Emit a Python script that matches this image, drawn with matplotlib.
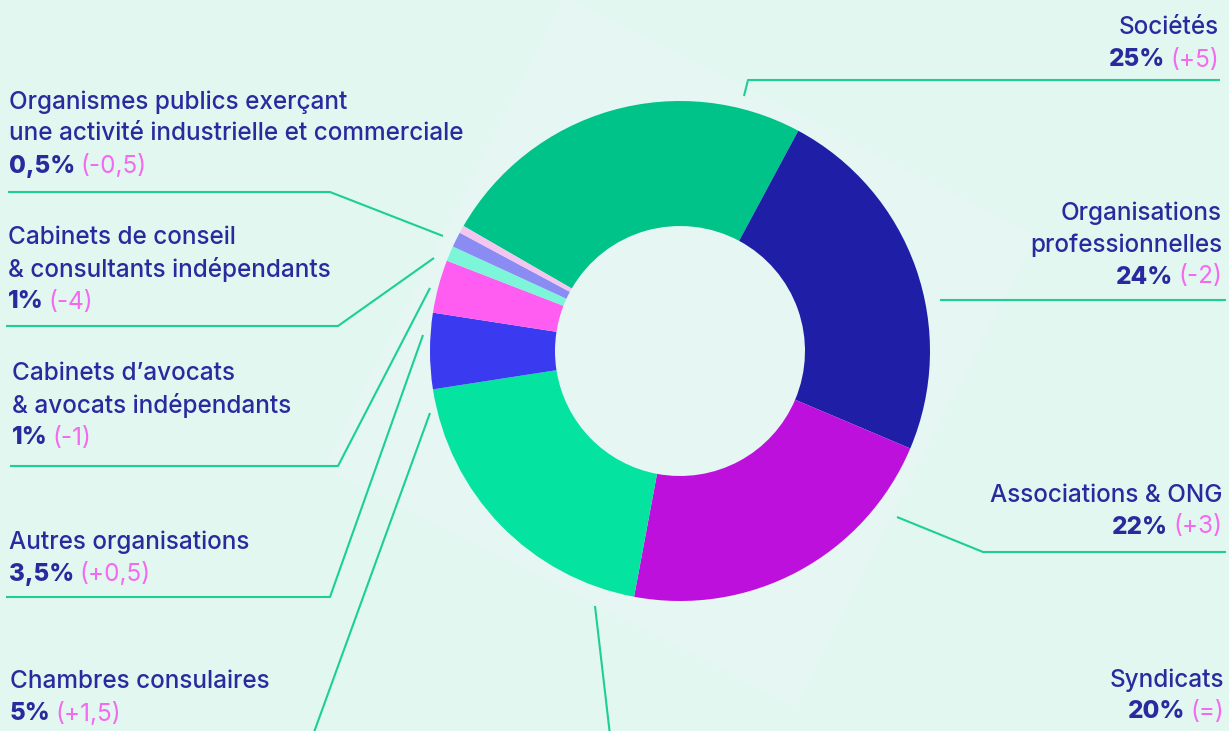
import matplotlib
matplotlib.use("Agg")
import matplotlib.pyplot as plt
from matplotlib.patches import Rectangle
import matplotlib.transforms as mtransforms

W, H = 1229, 731

# lobbying registrants by category (share in %, change vs previous year)
categories = [
    "Sociétés",
    "Organisations professionnelles",
    "Associations & ONG",
    "Syndicats",
    "Chambres consulaires",
    "Autres organisations",
    "Cabinets d'avocats & avocats indépendants",
    "Cabinets de conseil & consultants indépendants",
    "Organismes publics exerçant une activité industrielle et commerciale",
]
shares = [25, 24, 22, 20, 5, 3.5, 1, 1, 0.5]
changes = ["+5", "-2", "+3", "=", "+1,5", "+0,5", "-1", "-4", "-0,5"]
colors = ["#00c389", "#1e1ea6", "#bd10dc", "#04e3a0", "#3a3af0",
          "#ff5cf2", "#7cf5d8", "#8a8cf4", "#f2c6ee"]

# how each label is broken over lines
label_lines = [
    ["Sociétés"],
    ["Organisations", "professionnelles"],
    ["Associations & ONG"],
    ["Syndicats"],
    ["Chambres consulaires"],
    ["Autres organisations"],
    ["Cabinets d\u2019avocats", "& avocats indépendants"],
    ["Cabinets de conseil", "& consultants indépendants"],
    ["Organismes publics exerçant", "une activité industrielle et commerciale"],
]

BG = "#e2f7f0"
NAVY = "#2a2a9e"
PINK = "#f36af0"
LEAD = "#1ccf93"

plt.rcParams["font.family"] = ["Inter", "DejaVu Sans"]

fig = plt.figure(figsize=(W / 100, H / 100), dpi=100)
fig.patch.set_facecolor(BG)
ax = fig.add_axes([0, 0, 1, 1])
ax.set_facecolor(BG)

cx, cy = 680, H - 351   # donut centre (y measured from bottom)
R = 250

# faint tilted square behind the donut
sq = Rectangle((cx - 265, cy - 265), 530, 530, facecolor="#e5f6f3",
               edgecolor="none", zorder=0)
sq.set_transform(mtransforms.Affine2D().rotate_deg_around(cx, cy, -27) + ax.transData)
ax.add_patch(sq)

ax.pie(shares, colors=colors, startangle=150, counterclock=False,
       center=(cx, cy), radius=R,
       wedgeprops=dict(width=R * 0.5, linewidth=0))

ax.set_xlim(0, W)
ax.set_ylim(0, H)
ax.set_aspect("auto")
ax.axis("off")

# label placement: anchor x, y of first line (from top), alignment, leader polyline
layout = [
    (1219, 28, "right", [(1220, 80), (748, 80), (744, 96)]),
    (1222, 213, "right", [(1226, 300), (940, 300)]),
    (1222, 495, "right", [(1226, 552), (983, 552), (897, 517)]),
    (1224, 680, "right", [(610, 735), (595, 606)]),
    (10, 682, "left", [(313, 735), (430, 413)]),
    (9, 542, "left", [(6, 597), (330, 597), (423, 335)]),
    (12, 374, "left", [(10, 466), (338, 466), (430, 288)]),
    (8, 238, "left", [(6, 326), (338, 326), (434, 258)]),
    (9, 102, "left", [(8, 192), (330, 192), (443, 236)]),
]

FS = 17.5
LINE = 32
renderer = fig.canvas.get_renderer()

for lines, share, chg, (x, y0, ha, lead) in zip(label_lines, shares, changes, layout):
    for i, line in enumerate(lines):
        ax.text(x, H - (y0 + i * LINE), line, ha=ha, va="center",
                fontsize=FS, color=NAVY, fontweight="medium")
    yv = H - (y0 + len(lines) * LINE)
    pct = f"{share:g}".replace(".", ",") + "%"
    paren = f"({chg})"
    if ha == "left":
        t1 = ax.text(x, yv, pct, ha="left", va="center", fontsize=FS,
                     color=NAVY, fontweight="heavy")
        bb = t1.get_window_extent(renderer)
        ax.text(bb.x1 + 5, yv, paren, ha="left", va="center", fontsize=FS,
                color=PINK, fontweight="normal")
    else:
        t2 = ax.text(x, yv, paren, ha="right", va="center", fontsize=FS,
                     color=PINK, fontweight="normal")
        bb = t2.get_window_extent(renderer)
        ax.text(bb.x0 - 5, yv, pct, ha="right", va="center", fontsize=FS,
                color=NAVY, fontweight="heavy")
    xs = [p[0] for p in lead]
    ys = [H - p[1] for p in lead]
    ax.plot(xs, ys, color=LEAD, lw=1.5, solid_capstyle="butt")

fig.savefig("out.png", dpi=100, facecolor=BG)
